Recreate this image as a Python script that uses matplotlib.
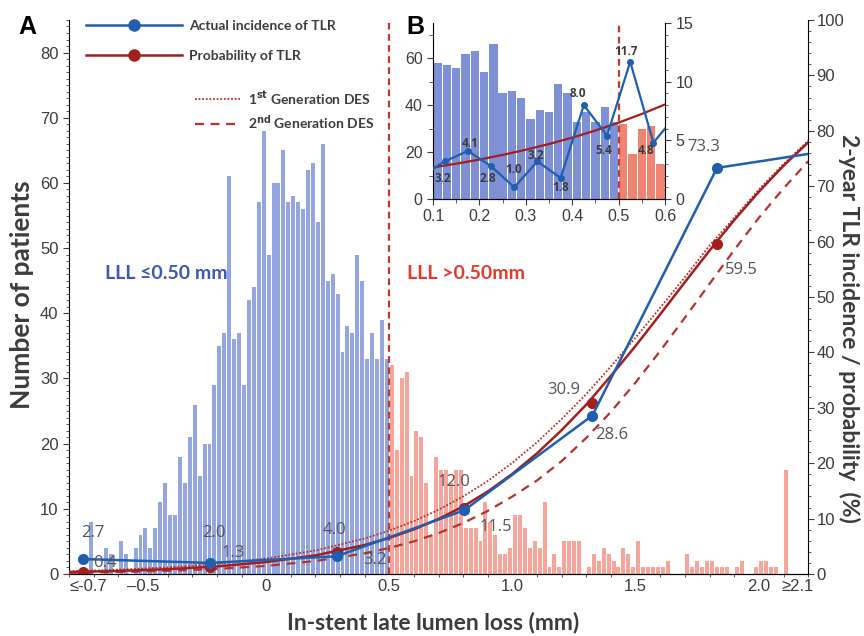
import numpy as np
import matplotlib
matplotlib.use('Agg')
import matplotlib.pyplot as plt
from matplotlib.lines import Line2D
from matplotlib.ticker import MultipleLocator

# ---- histogram: patients per 0.02 mm bin of in-stent late lumen loss ----
bin_width = 0.02
blue_start = -0.72   # first bin = "<=-0.7"
blue_counts = [8, 0, 0, 4, 3, 0, 5, 3, 0, 4, 6, 7, 4, 7, 11, 14, 9, 9, 18, 14,
               21, 26, 15, 20, 20, 29, 35, 37, 61, 36, 37, 29, 42, 44, 57, 68, 49, 60, 60, 65,
               57, 58, 57, 56, 62, 63, 54, 66, 45, 46, 43, 34, 38, 37, 49, 45, 33, 37, 33, 39,
               33]
red_start = 0.50     # last bin = ">=2.1"
red_counts = [32, 19, 30, 31, 15, 22, 21, 14, 6, 18, 16, 16, 14, 16, 16, 7, 7, 7, 5, 11,
              8, 6, 3, 3, 4, 9, 9, 7, 4, 5, 4, 11, 1, 3, 1,
              5, 5, 5, 5, 0, 1, 3, 2, 4, 3, 2, 1, 4, 3, 1, 5, 1, 1, 1, 1,
              1, 2, 0, 0, 0, 3, 1, 2, 1, 2, 2, 1, 1, 1, 0, 1, 2, 0, 0, 1,
              2, 2, 1, 1, 0, 16]

# ---- 2-year TLR per LLL group (%) ----
group_x = [-0.745, -0.228, 0.287, 0.804, 1.324, 1.83, 2.3]
actual_tlr = [2.7, 2.0, 3.2, 11.5, 28.6, 73.3, 76.5]
prob_x = [-0.745, -0.228, 0.287, 0.804, 1.324, 1.83]
prob_tlr = [0.4, 1.3, 4.0, 12.0, 30.9, 59.5]

# model curves
curve_x = [-0.8, -0.6, -0.4, -0.2, 0.0, 0.2, 0.4, 0.5, 0.6, 0.7, 0.8, 0.9, 1.0, 1.1, 1.2,
           1.3, 1.4, 1.5, 1.6, 1.7, 1.8, 1.9, 2.0, 2.1, 2.2]
prob_curve = [0.34, 0.55, 0.86, 1.36, 2.15, 3.36, 5.23, 6.51, 8.06, 9.95, 12.2, 14.9, 18.1,
              21.8, 26.0, 30.6, 35.8, 41.2, 46.9, 52.7, 58.4, 63.9, 69.0, 73.7, 77.9]
gen1_curve = [0.50, 0.78, 1.19, 1.83, 2.79, 4.24, 6.40, 7.84, 9.55, 11.6, 14.0, 16.8, 20.1,
              23.8, 28.0, 32.5, 37.5, 42.7, 48.1, 53.6, 59.3, 64.3, 69.4, 74.0, 78.2]
gen2_curve = [0.22, 0.35, 0.57, 0.91, 1.46, 2.34, 3.73, 4.70, 5.90, 7.38, 9.20, 11.4, 14.0,
              16.9, 20.4, 24.6, 29.3, 34.6, 40.3, 46.3, 52.4, 58.5, 64.3, 69.6, 74.5]

# ---- inset B ----
inset_x = [0.075, 0.125, 0.175, 0.225, 0.275, 0.325, 0.375, 0.425, 0.475, 0.525, 0.575, 0.625]
inset_tlr = [1.9, 3.2, 4.1, 2.8, 1.0, 3.2, 1.8, 8.0, 5.4, 11.7, 4.8, 7.2]
inset_curve_x = [0.10, 0.15, 0.20, 0.25, 0.30, 0.35, 0.40, 0.45, 0.50, 0.55, 0.60]
inset_curve = [2.69, 3.01, 3.36, 3.76, 4.20, 4.69, 5.23, 5.84, 6.51, 7.25, 8.06]

BLUE_BAR = '#94a5df'
RED_BAR = '#f6a59a'
BLUE = '#1f5fae'
RED = '#a31e1e'
RED_DASH = '#b7322a'
GREY = '#555555'
DARK = '#3c3c3c'
LABEL_FONT = ['Lato', 'DejaVu Sans']
TICK_FONT = ['Liberation Sans', 'DejaVu Sans']
NUM_FONT = ['Open Sans', 'DejaVu Sans']

fig = plt.figure(figsize=(8.64, 6.36), dpi=100)
ax = fig.add_axes([0.0799, 0.0975, 0.8555, 0.8711])

blue_edges = blue_start + bin_width * np.arange(len(blue_counts))
red_edges = red_start + bin_width * np.arange(len(red_counts))
ax.bar(blue_edges + bin_width / 2, blue_counts, width=0.016, color=BLUE_BAR, zorder=1)
ax.bar(red_edges + bin_width / 2, red_counts, width=0.016, color=RED_BAR, zorder=1)
ax.axvline(0.5, color='#c0392b', lw=1.6, dashes=(3, 2), zorder=2)

ax.set_xlim(-0.8, 2.2)
ax.set_ylim(0, 85)
ax.spines['top'].set_visible(False)
ax.spines['right'].set_visible(False)
ax.yaxis.set_major_locator(MultipleLocator(10))
ax.yaxis.set_minor_locator(MultipleLocator(1))
ax.set_xticks([-0.72, -0.5, 0, 0.5, 1.0, 1.5, 2.0, 2.155])
ax.set_xticklabels(['\u2264-0.7', '\u20130.5', '0', '0.5', '1.0', '1.5', '2.0', '\u22652.1'])
ax.xaxis.set_minor_locator(MultipleLocator(0.1))
ax.tick_params(axis='both', which='major', labelsize=12, colors=DARK, length=4)
ax.tick_params(axis='both', which='minor', length=2.5, colors=DARK)
ax.tick_params(axis='x', which='major', length=0)
for lab in ax.get_xticklabels() + ax.get_yticklabels():
    lab.set_family(TICK_FONT)

ax.text(-0.653, 46.1, 'LLL \u22640.50 mm', color='#3b58b5', fontsize=14, fontweight='bold',
        family=LABEL_FONT, va='center')
ax.text(0.571, 46.1, 'LLL >0.50mm', color='#e53a2b', fontsize=14, fontweight='bold',
        family=LABEL_FONT, va='center')

# right axis: TLR incidence / probability
ax2 = ax.twinx()
ax2.set_ylim(0, 100)
ax2.spines['top'].set_visible(False)
ax2.spines['left'].set_visible(False)
ax2.yaxis.set_major_locator(MultipleLocator(10))
ax2.yaxis.set_minor_locator(MultipleLocator(2))
ax2.tick_params(axis='y', which='major', labelsize=12, colors=DARK, length=4, pad=2)
ax2.tick_params(axis='y', which='minor', length=2.5, colors=DARK)
for lab in ax2.get_yticklabels():
    lab.set_family(TICK_FONT)

ax2.plot(curve_x, gen1_curve, color=RED_DASH, lw=1.3, ls=(0, (1, 1)))
ax2.plot(curve_x, gen2_curve, color=RED_DASH, lw=1.6, dashes=(4, 3))
ax2.plot(curve_x, prob_curve, color=RED, lw=1.8)
ax2.plot(prob_x, prob_tlr, 'o', color=RED, ms=7)
ax2.plot(group_x, actual_tlr, '-o', color=BLUE, lw=1.8, ms=7)

num_labels = [(-0.704, 7.4, '2.7'), (-0.655, 2.0, '0.4'), (-0.214, 7.4, '2.0'),
              (-0.132, 3.7, '1.3'), (0.277, 8.0, '4.0'), (0.44, 2.6, '3.2'),
              (0.763, 16.6, '12.0'), (0.933, 8.5, '11.5'), (1.206, 33.2, '30.9'),
              (1.403, 25.0, '28.6'), (1.776, 77.0, '73.3'), (1.93, 54.8, '59.5')]
for x, y, s in num_labels:
    ax2.text(x, y, s, color=GREY, fontsize=12, family=NUM_FONT, ha='center', va='center')

# legends
h1 = [Line2D([], [], color=BLUE, lw=1.8, marker='o', ms=8),
      Line2D([], [], color=RED, lw=1.8, marker='o', ms=8)]
leg1 = ax2.legend(h1, ['Actual incidence of TLR', 'Probability of TLR'], loc='upper left',
                  bbox_to_anchor=(0.023, 1.0), frameon=False, handlelength=6.9,
                  handletextpad=0.5, labelspacing=1.3, borderpad=0, borderaxespad=0,
                  prop={'family': LABEL_FONT, 'weight': 'bold', 'size': 10})
for t in leg1.get_texts():
    t.set_color(DARK)
ax2.add_artist(leg1)
h2 = [Line2D([], [], color=RED_DASH, lw=1.3, ls=(0, (1, 1))),
      Line2D([], [], color=RED_DASH, lw=1.6, dashes=(4, 3))]
leg2 = ax2.legend(h2, [r'1$^{\mathbf{st}}$ Generation DES', r'2$^{\mathbf{nd}}$ Generation DES'],
                  loc='upper left', bbox_to_anchor=(0.1705, 0.8755), frameon=False,
                  handlelength=3.2, handletextpad=0.6, labelspacing=0.45, borderpad=0,
                  borderaxespad=0, prop={'family': LABEL_FONT, 'weight': 'bold', 'size': 10})
for t in leg2.get_texts():
    t.set_color(DARK)

fig.text(0.501, 0.022, 'In-stent late lumen loss (mm)', fontsize=16.5, fontweight='bold',
         family=LABEL_FONT, color=DARK, ha='center', va='center')
fig.text(0.0255, 0.536, 'Number of patients', fontsize=19, fontweight='bold',
         family=LABEL_FONT, color=DARK, ha='center', va='center', rotation=90)
fig.text(0.983, 0.4843, '2-year TLR incidence / probability  (%)', fontsize=16.5,
         fontweight='bold', family=LABEL_FONT, color=DARK, ha='center', va='center',
         rotation=270)
fig.text(0.021, 0.976, 'A', fontsize=18, fontweight='bold', family=TICK_FONT, ha='left', va='top')
fig.text(0.47, 0.976, 'B', fontsize=18, fontweight='bold', family=TICK_FONT, ha='left', va='top')

# ---- inset B: 0.1-0.6 mm ----
axi = fig.add_axes([0.5012, 0.6871, 0.2685, 0.2767])
in_blue = (blue_edges >= 0.0999)
axi.bar(blue_edges[in_blue] + bin_width / 2, np.array(blue_counts)[in_blue], width=0.018,
        color='#7e90d6')
in_red = (red_edges < 0.5999)
axi.bar(red_edges[in_red] + bin_width / 2, np.array(red_counts)[in_red], width=0.018,
        color='#f08472')
axi.axvline(0.5, color='#c0392b', lw=1.6, dashes=(3, 2))
axi.set_xlim(0.1, 0.6)
axi.set_ylim(0, 75)
axi.spines['top'].set_visible(False)
axi.spines['right'].set_visible(False)
axi.yaxis.set_major_locator(MultipleLocator(20))
axi.yaxis.set_minor_locator(MultipleLocator(10))
axi.xaxis.set_major_locator(MultipleLocator(0.1))
axi.xaxis.set_minor_locator(MultipleLocator(0.05))
axi.tick_params(which='major', labelsize=11.5, colors=DARK, length=4)
axi.tick_params(which='minor', length=3, colors=DARK)
for lab in axi.get_xticklabels() + axi.get_yticklabels():
    lab.set_family(TICK_FONT)

axi2 = axi.twinx()
axi2.set_ylim(0, 15)
axi2.spines['top'].set_visible(False)
axi2.spines['left'].set_visible(False)
axi2.yaxis.set_major_locator(MultipleLocator(5))
axi2.yaxis.set_minor_locator(MultipleLocator(1))
axi2.tick_params(which='major', labelsize=11.5, colors=DARK, length=4)
axi2.tick_params(which='minor', length=2.5, colors=DARK)
for lab in axi2.get_yticklabels():
    lab.set_family(TICK_FONT)
axi2.plot(inset_curve_x, inset_curve, color=RED, lw=1.6)
axi2.plot(inset_x, inset_tlr, '-o', color=BLUE, lw=1.6, ms=4)

inset_labels = [(0.122, 1.72, '3.2'), (0.18, 4.73, '4.1'), (0.219, 1.72, '2.8'),
                (0.273, 2.52, '1.0'), (0.321, 3.67, '3.2'), (0.376, 0.95, '1.8'),
                (0.413, 8.97, '8.0'), (0.467, 4.1, '5.4'), (0.517, 12.6, '11.7'),
                (0.56, 4.1, '4.8')]
for x, y, s in inset_labels:
    axi2.text(x, y, s, color=DARK, fontsize=8.5, fontweight='bold', family=NUM_FONT,
              ha='center', va='center')

fig.savefig('out.png', dpi=100)
